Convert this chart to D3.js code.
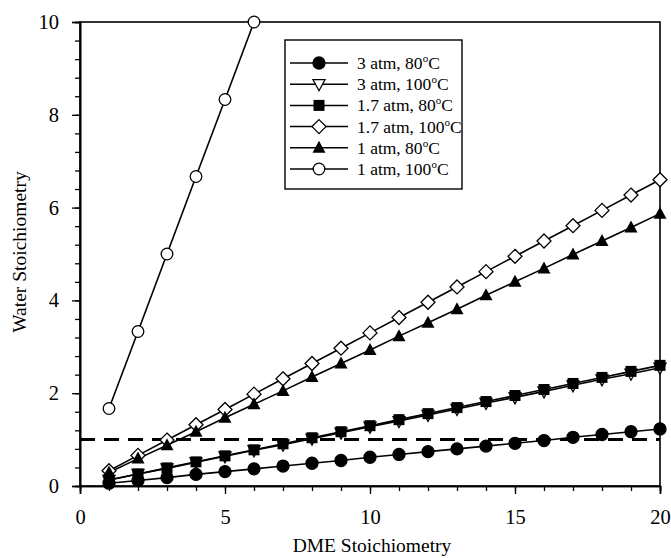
<!DOCTYPE html>
<html><head><meta charset="utf-8">
<script src="https://cdn.jsdelivr.net/npm/d3@7"></script>
<style>body{margin:0;background:#fff}svg{display:block}text{font-family:"Liberation Serif","Times New Roman",serif}</style>
</head><body><svg id="c" width="671" height="558"></svg>
<script>
const xs = [1,2,3,4,5,6,7,8,9,10,11,12,13,14,15,16,17,18,19,20];
const s3_80  = [0.06,0.12,0.18,0.25,0.31,0.37,0.43,0.49,0.55,0.62,0.68,0.74,0.80,0.86,0.92,0.98,1.05,1.11,1.17,1.23];
const s3_100 = [0.13,0.26,0.38,0.51,0.64,0.77,0.89,1.02,1.15,1.28,1.40,1.53,1.66,1.79,1.91,2.04,2.17,2.30,2.42,2.55];
const s17_80 = [0.13,0.26,0.39,0.52,0.65,0.78,0.91,1.04,1.17,1.30,1.43,1.56,1.69,1.82,1.95,2.08,2.21,2.34,2.47,2.60];
const s17_100= [0.33,0.66,0.99,1.32,1.65,1.98,2.31,2.64,2.97,3.30,3.63,3.96,4.29,4.62,4.95,5.28,5.61,5.94,6.27,6.60];
const s1_80  = [0.29,0.59,0.88,1.17,1.47,1.76,2.05,2.35,2.64,2.93,3.23,3.52,3.81,4.11,4.40,4.69,4.99,5.28,5.57,5.87];
const s1_100x= [1,2,3,4,5,6];
const s1_100 = [1.67,3.33,5.00,6.67,8.33,10.0];
const refLine = 1.0;
const xTicks = [0,5,10,15,20];
const yTicks = [0,2,4,6,8,10];
const seriesNames = ["3 atm, 80","3 atm, 100","1.7 atm, 80","1.7 atm, 100","1 atm, 80","1 atm, 100"];
const seriesMarkers = ["circleF","triDownO","squareF","diamondO","triUpF","circleO"];

const series = [
  {name:seriesNames[0], m:seriesMarkers[0], x:xs, y:s3_80},
  {name:seriesNames[1], m:seriesMarkers[1], x:xs, y:s3_100},
  {name:seriesNames[2], m:seriesMarkers[2], x:xs, y:s17_80},
  {name:seriesNames[3], m:seriesMarkers[3], x:xs, y:s17_100},
  {name:seriesNames[4], m:seriesMarkers[4], x:xs, y:s1_80},
  {name:seriesNames[5], m:seriesMarkers[5], x:s1_100x, y:s1_100},
];
const svg = d3.select("#c");
const L=80,R=660,T=22,B=486;
const x = d3.scaleLinear().domain([0,20]).range([L,R]);
const y = d3.scaleLinear().domain([0,10]).range([B,T]);

// frame
svg.append("rect").attr("x",L).attr("y",T).attr("width",R-L).attr("height",B-T)
  .attr("fill","none").attr("stroke","#000").attr("stroke-width",1.6);

// axes
const xa = svg.append("g").attr("transform",`translate(0,${B})`)
  .call(d3.axisBottom(x).tickValues(xTicks).tickSize(8).tickPadding(15).tickFormat(d3.format("d")));
const xm = svg.append("g").attr("transform",`translate(0,${B})`)
  .call(d3.axisBottom(x).tickValues(d3.range(0,21,1)).tickSize(5).tickFormat(""));
const ya = svg.append("g").attr("transform",`translate(${L},0)`)
  .call(d3.axisLeft(y).tickValues(yTicks).tickSize(8).tickPadding(13).tickFormat(d3.format("d")));
const ym = svg.append("g").attr("transform",`translate(${L},0)`)
  .call(d3.axisLeft(y).tickValues(d3.range(0,10.01,0.4)).tickSize(5).tickFormat(""));
[xa,xm,ya,ym].forEach(g=>{g.select(".domain").attr("stroke","#000").attr("stroke-width",1.6);
  g.selectAll("line").attr("stroke","#000").attr("stroke-width",1.3);
  g.selectAll("text").attr("fill","#000").style("font-size","20.5px").style("font-family","'Liberation Serif',serif");});

svg.append("text").attr("x",372).attr("y",552).attr("text-anchor","middle").style("font-size","19.5px").text("DME Stoichiometry");
svg.append("text").attr("transform","translate(26,252) rotate(-90)").attr("text-anchor","middle").style("font-size","19.5px").text("Water Stoichiometry");

// reference dashed line
svg.append("line").attr("x1",x(0)).attr("x2",x(20)).attr("y1",y(refLine)).attr("y2",y(refLine))
  .attr("stroke","#000").attr("stroke-width",3).attr("stroke-dasharray","15,9");

function marker(g, type, cx, cy){
  if(type==="circleF"||type==="circleO"){
    g.append("circle").attr("cx",cx).attr("cy",cy).attr("r",type==="circleF"?6:5.8)
     .attr("fill",type==="circleF"?"#000":"#fff").attr("stroke","#000").attr("stroke-width",1.3);
  } else if(type==="squareF"){
    g.append("rect").attr("x",cx-5.5).attr("y",cy-5.5).attr("width",11).attr("height",11).attr("fill","#000");
  } else if(type==="diamondO"){
    const d=7;
    g.append("path").attr("d",`M${cx},${cy-d}L${cx+d},${cy}L${cx},${cy+d}L${cx-d},${cy}Z`).attr("fill","#fff").attr("stroke","#000").attr("stroke-width",1.3);
  } else if(type==="triUpF"){
    g.append("path").attr("d",`M${cx},${cy-7}L${cx+6.5},${cy+5}L${cx-6.5},${cy+5}Z`).attr("fill","#000");
  } else if(type==="triDownO"){
    g.append("path").attr("d",`M${cx},${cy+6.5}L${cx+6},${cy-4.5}L${cx-6},${cy-4.5}Z`).attr("fill","#fff").attr("stroke","#000").attr("stroke-width",1.3);
  }
}

const line = d3.line().x(d=>x(d[0])).y(d=>y(d[1]));
series.forEach(s=>{
  const pts = s.x.map((v,i)=>[v,s.y[i]]);
  svg.append("path").datum(pts).attr("d",line).attr("fill","none").attr("stroke","#000").attr("stroke-width",1.6);
});
series.forEach(s=>{
  const g=svg.append("g");
  s.x.forEach((v,i)=>marker(g,s.m,x(v),y(s.y[i])));
});

// legend
const lg = svg.append("g");
lg.append("rect").attr("x",285).attr("y",40).attr("width",177).attr("height",149).attr("fill","#fff").attr("stroke","#000").attr("stroke-width",1.4);
series.forEach((s,i)=>{
  const yy = 63 + i*21.2;
  lg.append("line").attr("x1",290).attr("x2",348).attr("y1",yy).attr("y2",yy).attr("stroke","#000").attr("stroke-width",1.5);
  marker(lg,s.m,319,yy);
  const t = lg.append("text").attr("x",357).attr("y",yy+6).style("font-size","17.5px");
  t.append("tspan").text(s.name);
  t.append("tspan").attr("dy",-7).style("font-size","11px").text("o");
  t.append("tspan").attr("dy",7).text("C");
});
</script></body></html>
